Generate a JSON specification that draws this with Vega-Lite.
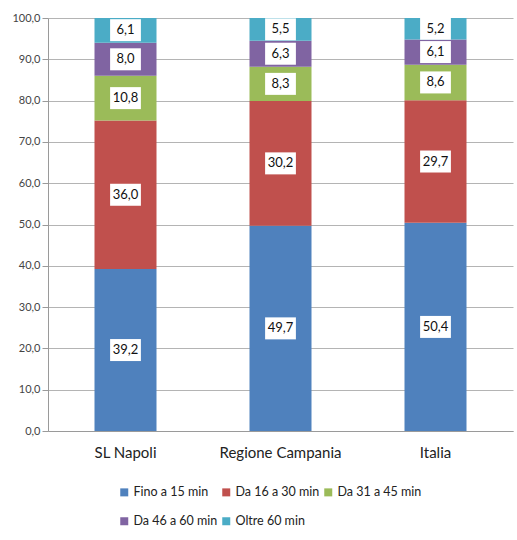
{
  "$schema": "https://vega.github.io/schema/vega-lite/v6.json",
  "width": 465,
  "height": 413,
  "autosize": {"type": "none"},
  "padding": {"left": 48, "top": 18, "right": 4, "bottom": 109},
  "background": "white",
  "config": {
    "locale": {"number": {"decimal": ",", "thousands": ".", "grouping": [3], "currency": ["", " €"]}},
    "font": "Lato",
    "view": {"stroke": null},
    "axisY": {
      "title": null, "values": [0,10,20,30,40,50,60,70,80,90,100],
      "format": ".1f", "labelFontSize": 11, "labelColor": "#444", "labelOverlap": false,
      "grid": true, "gridColor": "#b4b4b4", "domainColor": "#9a9a9a",
      "tickColor": "#9a9a9a", "tickSize": 6, "labelPadding": 2
    }
  },
  "data": {
    "values": [
      {"region": "SL Napoli", "cat": "Fino a 15 min", "ord": 1, "value": 39.2},
      {"region": "SL Napoli", "cat": "Da 16 a 30 min", "ord": 2, "value": 36.0},
      {"region": "SL Napoli", "cat": "Da 31 a 45 min", "ord": 3, "value": 10.8},
      {"region": "SL Napoli", "cat": "Da 46 a 60 min", "ord": 4, "value": 8.0},
      {"region": "SL Napoli", "cat": "Oltre 60 min", "ord": 5, "value": 6.1},
      {"region": "Regione Campania", "cat": "Fino a 15 min", "ord": 1, "value": 49.7},
      {"region": "Regione Campania", "cat": "Da 16 a 30 min", "ord": 2, "value": 30.2},
      {"region": "Regione Campania", "cat": "Da 31 a 45 min", "ord": 3, "value": 8.3},
      {"region": "Regione Campania", "cat": "Da 46 a 60 min", "ord": 4, "value": 6.3},
      {"region": "Regione Campania", "cat": "Oltre 60 min", "ord": 5, "value": 5.5},
      {"region": "Italia", "cat": "Fino a 15 min", "ord": 1, "value": 50.4},
      {"region": "Italia", "cat": "Da 16 a 30 min", "ord": 2, "value": 29.7},
      {"region": "Italia", "cat": "Da 31 a 45 min", "ord": 3, "value": 8.6},
      {"region": "Italia", "cat": "Da 46 a 60 min", "ord": 4, "value": 6.1},
      {"region": "Italia", "cat": "Oltre 60 min", "ord": 5, "value": 5.2}
    ]
  },
  "transform": [
    {"stack": "value", "groupby": ["region"], "sort": [{"field": "ord", "order": "ascending"}], "as": ["y0", "y1"]},
    {"calculate": "(datum.y0 + datum.y1) / 2", "as": "mid"}
  ],
  "encoding": {
    "x": {
      "field": "region", "type": "nominal",
      "sort": ["SL Napoli", "Regione Campania", "Italia"],
      "scale": {"paddingInner": 0.6, "paddingOuter": 0.3},
      "axis": {
        "title": null, "labelAngle": 0, "labelFontSize": 15, "labelColor": "#222",
        "labelPadding": 14, "ticks": false, "domainColor": "#9a9a9a", "grid": false
      }
    }
  },
  "layer": [
    {
      "mark": {"type": "bar", "stroke": null},
      "encoding": {
        "y": {
          "field": "y0", "type": "quantitative",
          "scale": {"domain": [0, 100], "clamp": true, "nice": false}
        },
        "y2": {"field": "y1"},
        "color": {
          "field": "cat", "type": "nominal",
          "sort": ["Fino a 15 min", "Da 16 a 30 min", "Da 31 a 45 min", "Da 46 a 60 min", "Oltre 60 min"],
          "scale": {
            "domain": ["Fino a 15 min", "Da 16 a 30 min", "Da 31 a 45 min", "Da 46 a 60 min", "Oltre 60 min"],
            "range": ["#4F81BD", "#C0504D", "#9BBB59", "#8064A2", "#4BACC6"]
          },
          "legend": {
            "title": null, "orient": "none", "legendX": 70, "legendY": 468,
            "direction": "horizontal", "columns": 3, "columnPadding": 2, "rowPadding": 16,
            "symbolType": "square", "symbolSize": 64, "symbolStrokeWidth": 0,
            "labelFontSize": 12.5, "labelColor": "#222", "labelOffset": 3
          }
        }
      }
    },
    {
      "mark": {"type": "point", "filled": true, "fill": "white", "opacity": 1, "strokeWidth": 0,
               "shape": "M-1.4,-1 L1.4,-1 L1.4,1 L-1.4,1 Z", "size": 484},
      "encoding": {
        "y": {"field": "mid", "type": "quantitative"}
      }
    },
    {
      "mark": {"type": "text", "fontSize": 13, "color": "#111", "baseline": "middle", "align": "center"},
      "encoding": {
        "y": {"field": "mid", "type": "quantitative"},
        "text": {"field": "value", "type": "quantitative", "format": ".1f"}
      }
    }
  ]
}
